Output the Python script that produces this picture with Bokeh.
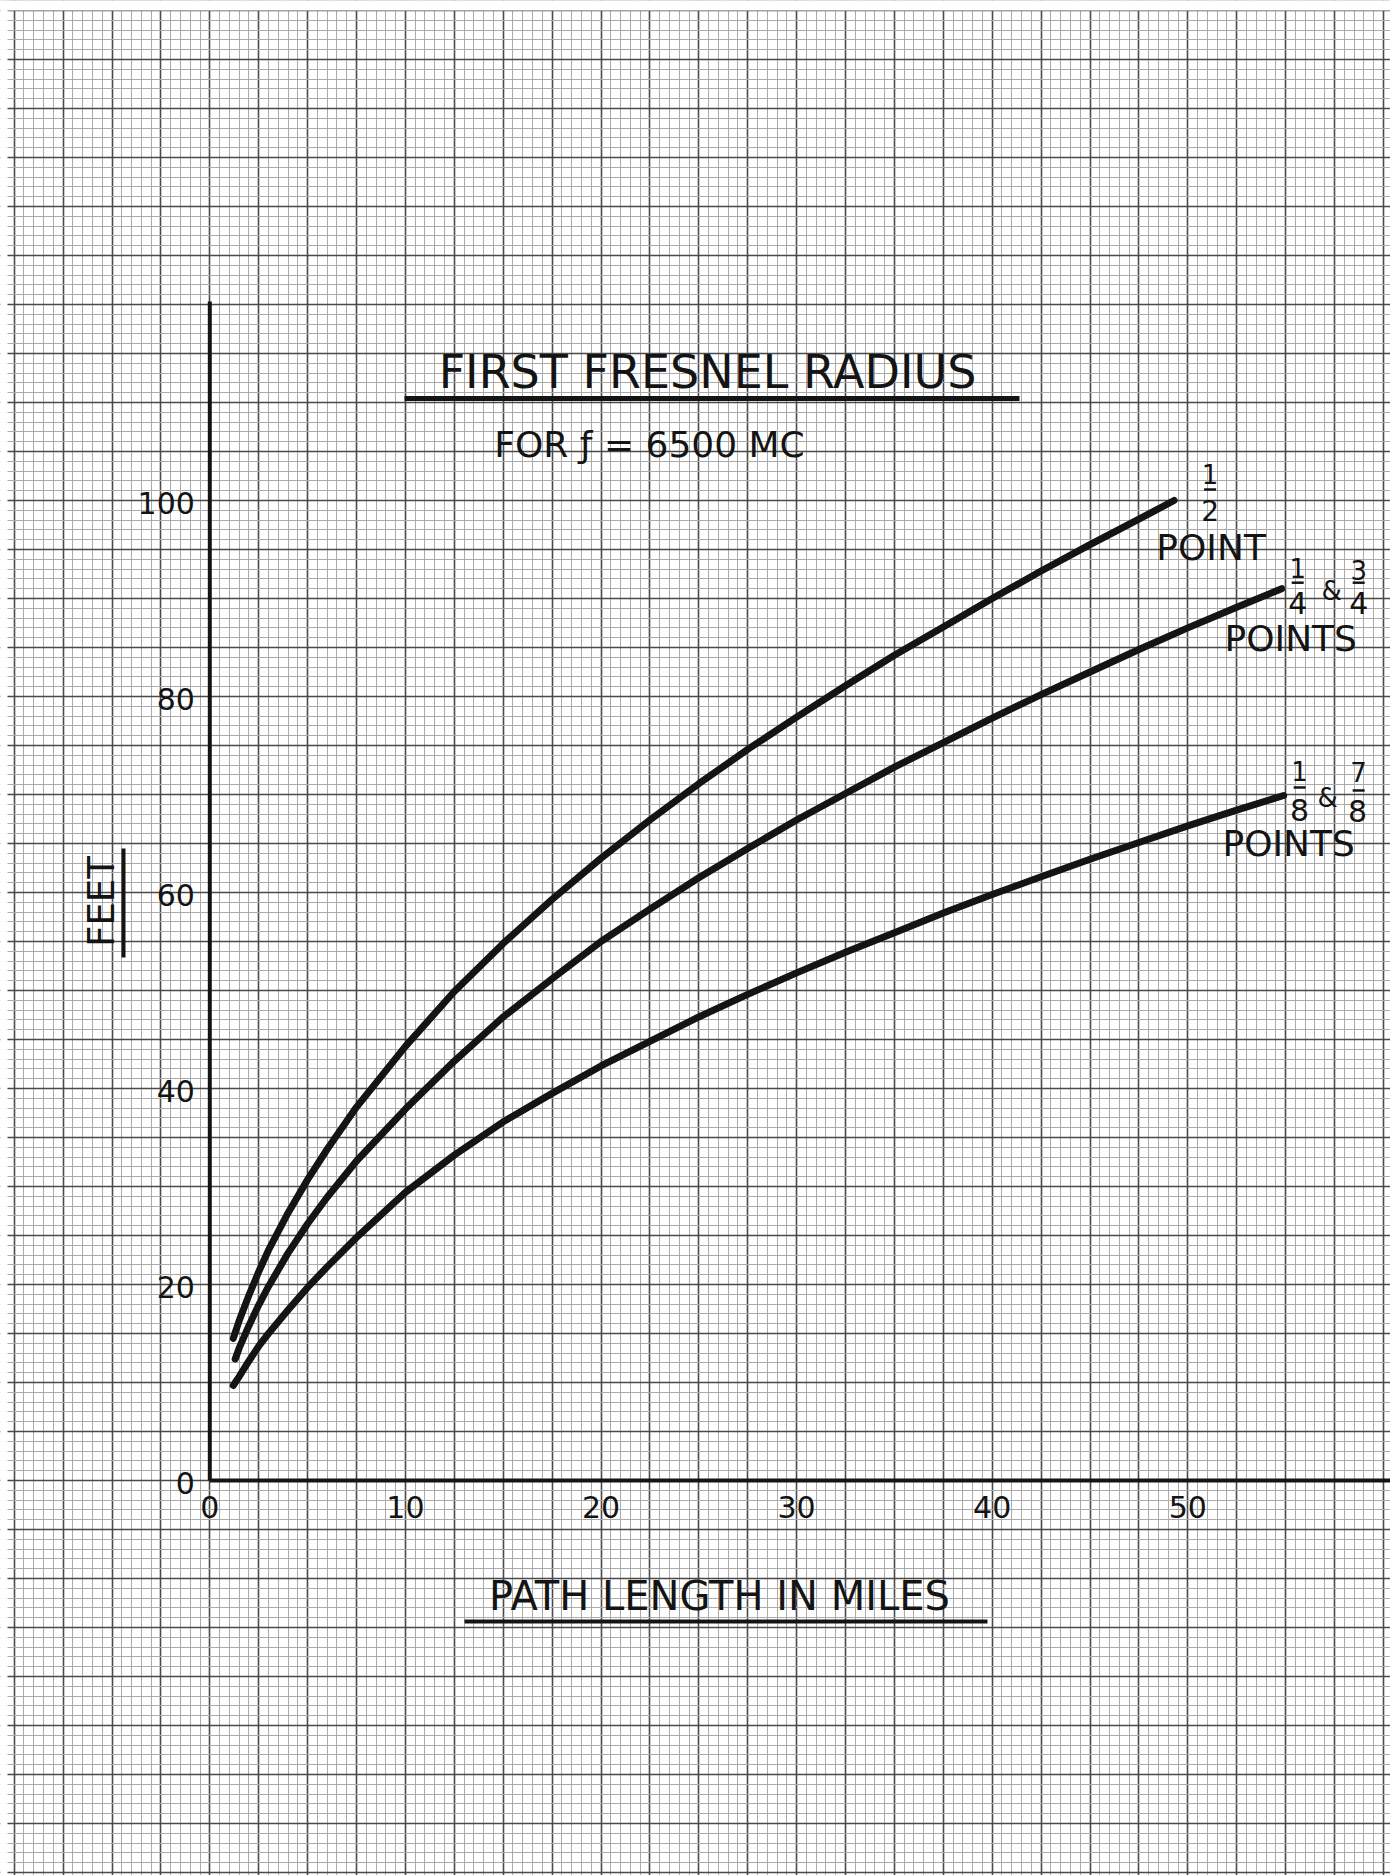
import numpy as np
from bokeh.plotting import figure
from bokeh.models import Range1d, SingleIntervalTicker
from bokeh.core.properties import value
from bokeh.embed import file_html
from bokeh.resources import INLINE

# ---------------- data ----------------
miles_half = [1.2, 1.5, 2, 2.5, 3, 4, 5, 6, 7.5, 10, 12.5, 15, 17.5, 20, 22.5, 25,
              27.5, 30, 32.5, 35, 37.5, 40, 42.5, 45, 47.5, 49.3]
feet_half = [14.5, 16.3, 18.9, 21.3, 23.5, 27.3, 30.7, 33.8, 38.1, 44.3, 49.9, 54.8,
             59.3, 63.5, 67.4, 71.1, 74.6, 77.9, 81.1, 84.2, 87.1, 90.0, 92.8, 95.5,
             98.1, 100.0]

miles_quarter = [1.3, 1.5, 2, 2.5, 3, 4, 5, 6, 7.5, 10, 12.5, 15, 17.5, 20, 22.5, 25,
                 27.5, 30, 32.5, 35, 37.5, 40, 42.5, 45, 47.5, 50, 52.5, 54.8]
feet_quarter = [12.4, 13.5, 15.8, 17.9, 19.8, 23.2, 26.2, 28.9, 32.6, 37.9, 42.8, 47.3,
                51.2, 55.0, 58.3, 61.5, 64.5, 67.4, 70.1, 72.8, 75.3, 77.8, 80.2, 82.5,
                84.8, 87.0, 89.1, 91.0]

miles_eighth = [1.2, 1.5, 2, 2.5, 3, 4, 5, 6, 7.5, 10, 12.5, 15, 17.5, 20, 22.5, 25,
                27.5, 30, 32.5, 35, 37.5, 40, 42.5, 45, 47.5, 50, 52.5, 54.9]
feet_eighth = [9.7, 10.6, 12.2, 13.7, 15.0, 17.4, 19.7, 21.8, 24.8, 29.4, 33.2, 36.6,
               39.5, 42.3, 44.8, 47.3, 49.6, 51.8, 53.9, 55.9, 57.9, 59.8, 61.6, 63.4,
               65.1, 66.8, 68.4, 69.9]

x_ticks = [0, 10, 20, 30, 40, 50]
x_tick_labels = ["0", "10", "20", "30", "40", "50"]
y_ticks = [0, 20, 40, 60, 80, 100]
y_tick_labels = ["0", "20", "40", "60", "80", "100"]
y_axis_top = 120.3

title_text = "FIRST FRESNEL RADIUS"
subtitle_text = "FOR ƒ = 6500 MC"
x_label_text = "PATH LENGTH IN MILES"
y_label_text = "FEET"

# ---------------- layout ----------------
W, H = 1390, 1875
XS = 19.56      # px per mile
YS = 9.8        # px per foot
X0 = 209.3      # canvas px of x = 0
Y0 = 1480.0     # canvas px (from top) of y = 0

def mx(px):
    return (px - X0) / XS

def fy(py):
    return (Y0 - py) / YS

FONT = value("DejaVu Sans")
INK = "#141414"

p = figure(width=W, height=H, output_backend="svg", toolbar_location=None,
           x_range=Range1d(mx(0), mx(W)), y_range=Range1d(fy(H), fy(0)),
           x_axis_location=None, y_axis_location=None,
           min_border=0, outline_line_color=None,
           background_fill_color="white", border_fill_color="white")

# graph paper
p.xgrid.ticker = SingleIntervalTicker(interval=2.5, num_minor_ticks=5)
p.ygrid.ticker = SingleIntervalTicker(interval=5, num_minor_ticks=5)
for g in (p.xgrid, p.ygrid):
    g.grid_line_color = "#4a4a4a"
    g.grid_line_width = 1.6
    g.minor_grid_line_color = "#ababab"
    g.minor_grid_line_width = 1

# white paper margin at top and left (as in the scan)
p.quad(left=[mx(0), mx(0)], right=[mx(W), mx(7)], top=[fy(0), fy(0)],
       bottom=[fy(10), fy(H)], fill_color="white", line_color=None)

# axes lines
p.segment(x0=[0, 0], y0=[0, 0], x1=[0, mx(W) + 1], y1=[y_axis_top, 0],
          line_color=INK, line_width=4)

# tick labels
p.text(x=[0] * len(y_ticks), y=y_ticks, text=y_tick_labels, text_font=FONT,
       text_font_size="30px", text_align="right", text_baseline="middle",
       x_offset=-15, y_offset=2, text_color=INK)
p.text(x=x_ticks, y=[0] * len(x_ticks), text=x_tick_labels, text_font=FONT,
       text_font_size="30px", text_align="center", text_baseline="middle",
       y_offset=26, text_color=INK)

# curves
for xs, ys in ((miles_half, feet_half), (miles_quarter, feet_quarter),
               (miles_eighth, feet_eighth)):
    p.line(xs, ys, line_color=INK, line_width=7, line_cap="round", line_join="round")

# title & subtitle
p.text(x=[mx(707)], y=[fy(371)], text=[title_text], text_font=FONT,
       text_font_size="46px", text_align="center", text_baseline="middle",
       text_color=INK)
p.segment(x0=[mx(404)], y0=[fy(398)], x1=[mx(1019)], y1=[fy(398)],
          line_color=INK, line_width=5)
p.text(x=[mx(649)], y=[fy(444)], text=[subtitle_text], text_font=FONT,
       text_font_size="36px", text_align="center", text_baseline="middle",
       text_color=INK)

# axis titles
p.text(x=[mx(719)], y=[fy(1595)], text=[x_label_text], text_font=FONT,
       text_font_size="40px", text_align="center", text_baseline="middle",
       text_color=INK)
p.segment(x0=[mx(464)], y0=[fy(1621)], x1=[mx(987)], y1=[fy(1621)],
          line_color=INK, line_width=4)
p.text(x=[mx(101)], y=[fy(901)], text=[y_label_text], text_font=FONT,
       text_font_size="37px", text_align="center", text_baseline="middle",
       angle=np.pi / 2, text_color=INK)
p.segment(x0=[mx(123)], y0=[fy(848)], x1=[mx(123)], y1=[fy(957)],
          line_color=INK, line_width=4)

# curve end labels (offsets in px relative to each curve's end)
def label(xe, ye, txt, dx, dy, size):
    p.text(x=[xe], y=[ye], text=[txt], text_font=FONT, text_font_size=size,
           text_align="center", text_baseline="middle", x_offset=dx, y_offset=dy,
           text_color=INK)

def bar(xe, ye, dx0, dx1, dy):
    p.segment(x0=[xe + dx0 / XS], y0=[ye - dy / YS], x1=[xe + dx1 / XS],
              y1=[ye - dy / YS], line_color=INK, line_width=2.5)

xe, ye = miles_half[-1], feet_half[-1]
label(xe, ye, "1", 36, -27, "26px")
bar(xe, ye, 30, 42, -11)
label(xe, ye, "2", 36, 10, "28px")
label(xe, ye, "POINT", 37, 47, "36px")

xe, ye = miles_quarter[-1], feet_quarter[-1]
label(xe, ye, "1", 16, -21, "26px")
bar(xe, ye, 10, 22, -6)
label(xe, ye, "4", 16, 14, "30px")
label(xe, ye, "&", 50, 2, "26px")
label(xe, ye, "3", 77, -19, "26px")
bar(xe, ye, 71, 83, -6)
label(xe, ye, "4", 77, 14, "30px")
label(xe, ye, "POINTS", 9, 50, "36px")

xe, ye = miles_eighth[-1], feet_eighth[-1]
label(xe, ye, "1", 16, -24, "26px")
bar(xe, ye, 10, 22, -8)
label(xe, ye, "8", 16, 15, "30px")
label(xe, ye, "&", 44, 3, "26px")
label(xe, ye, "7", 75, -23, "26px")
bar(xe, ye, 69, 81, -5)
label(xe, ye, "8", 74, 16, "30px")
label(xe, ye, "POINTS", 5, 48, "36px")

open("out.html", "w").write(file_html(p, INLINE))
